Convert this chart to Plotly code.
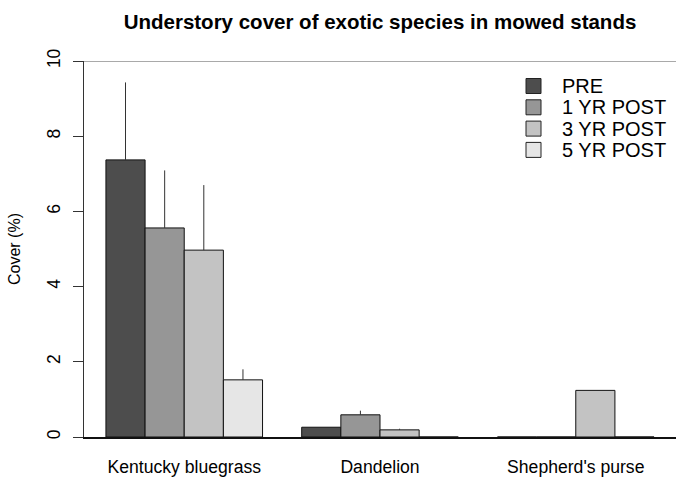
import plotly.graph_objects as go

# Mean understory cover (%) and upper error limits by species and survey period
species = ["Kentucky bluegrass", "Dandelion", "Shepherd's purse"]
periods = ["PRE", "1 YR POST", "3 YR POST", "5 YR POST"]

cover_pre = [7.37, 0.26, 0.0]
cover_1yr = [5.56, 0.59, 0.0]
cover_3yr = [4.97, 0.19, 1.24]
cover_5yr = [1.52, 0.0, 0.0]

upper_pre = [9.43, 0.26, 0.0]
upper_1yr = [7.09, 0.70, 0.0]
upper_3yr = [6.70, 0.22, 1.24]
upper_5yr = [1.80, 0.0, 0.0]

fills = ["#4D4D4D", "#969696", "#C3C3C3", "#E6E6E6"]

covers = [cover_pre, cover_1yr, cover_3yr, cover_5yr]
uppers = [upper_pre, upper_1yr, upper_3yr, upper_5yr]

W, H = 676, 478
ML, MR, MT, MB = 84, 0, 61, 41
PW, PH = W - ML - MR, H - MT - MB

fig = go.Figure()
for name, vals, ups, col in zip(periods, covers, uppers, fills):
    fig.add_trace(go.Bar(
        x=species, y=vals, name=name, showlegend=False,
        marker=dict(color=col, line=dict(color="#111111", width=1)),
        error_y=dict(type="data", symmetric=False,
                     array=[u - v for u, v in zip(ups, vals)],
                     arrayminus=[0] * len(vals),
                     color="#333333", thickness=1, width=0),
    ))

font = "Liberation Sans, Arial, sans-serif"

# Legend drawn as boxes + labels in the upper right of the plot area
shapes = [dict(type="line", xref="paper", yref="y", x0=0, x1=1, y0=10, y1=10,
               line=dict(color="#555555", width=1))]
annotations = [dict(text="Cover (%)", textangle=-90, xref="paper", yref="paper",
                    x=-70 / PW, y=0.5, xanchor="center", yanchor="middle",
                    showarrow=False, font=dict(size=16))]
leg_box_x0, leg_box_size, leg_text_x = 526, 15, 560
leg_top, leg_step = 86, 21.3
for i, (name, col) in enumerate(zip(periods, fills)):
    cy = leg_top + i * leg_step
    yc = 1 - (cy - MT) / PH
    half = leg_box_size / 2 / PH
    shapes.append(dict(type="rect", xref="paper", yref="paper",
                       x0=(leg_box_x0 - ML) / PW,
                       x1=(leg_box_x0 + leg_box_size - ML) / PW,
                       y0=yc - half, y1=yc + half,
                       fillcolor=col, line=dict(color="#222222", width=1)))
    annotations.append(dict(text=name, xref="paper", yref="paper",
                            x=(leg_text_x - ML) / PW, y=yc,
                            xanchor="left", yanchor="middle", showarrow=False,
                            font=dict(size=20)))

fig.update_layout(
    width=W, height=H,
    margin=dict(l=ML, r=MR, t=MT, b=MB),
    paper_bgcolor="white", plot_bgcolor="white",
    barmode="group", bargap=0.2, bargroupgap=0,
    showlegend=False,
    font=dict(family=font, color="black"),
    title=dict(text="<b>Understory cover of exotic species in mowed stands</b>",
               x=(ML + PW / 2) / W, xanchor="center",
               y=1 - 22 / H, yanchor="middle", yref="container",
               font=dict(size=20.5, family=font, color="black")),
    xaxis=dict(range=[-0.512, 2.512], showgrid=False, showline=True,
               linecolor="#111111", linewidth=1.5, ticks="",
               tickfont=dict(size=17.6), ticklabelstandoff=13, zeroline=False),
    yaxis=dict(range=[0, 10], tickvals=[0, 2, 4, 6, 8, 10], showgrid=False,
               showline=True, linecolor="#333333", linewidth=1,
               ticks="outside", ticklen=10, tickcolor="#333333",
               tickangle=-90, tickfont=dict(size=17.5), ticklabelstandoff=6,
               zeroline=False),
    annotations=annotations,
    shapes=shapes,
)

fig.write_html("out.html")
